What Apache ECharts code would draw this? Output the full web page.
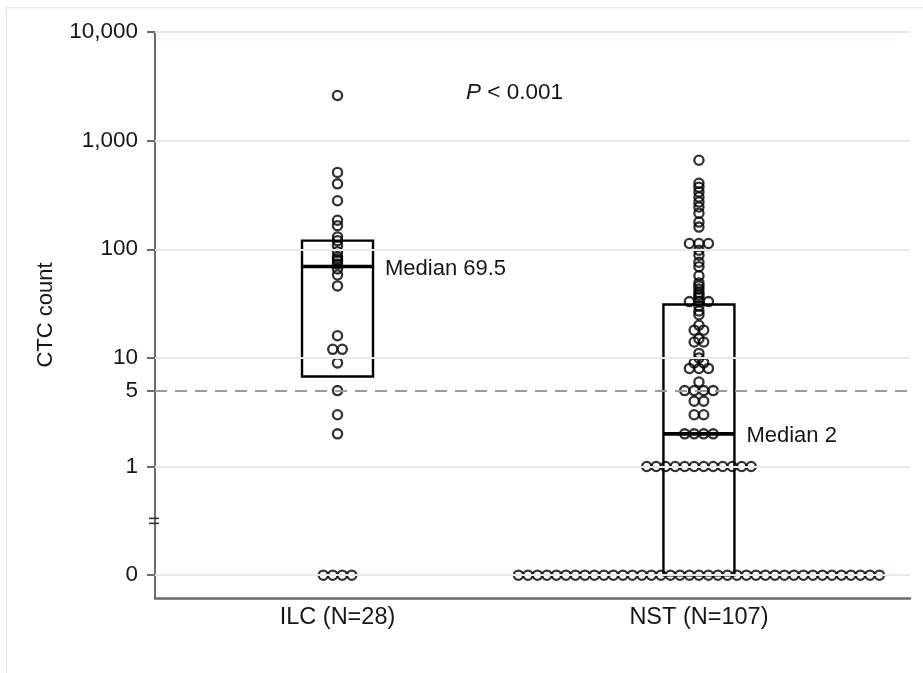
<!DOCTYPE html>
<html>
<head>
<meta charset="utf-8">
<script src="https://cdn.jsdelivr.net/npm/echarts@6/dist/echarts.min.js"></script>
<style>
html,body{margin:0;padding:0;background:#fff;}
#main{width:923px;height:673px;}
</style>
</head>
<body>
<div id="main"></div>
<script>
// ---------- data ----------
const categories = ['ILC (N=28)', 'NST (N=107)'];
const ilcValues = [0,0,0,0,2,3,5,9,12,12,16,46,58,66,73,78,82,86,95,108,120,130,165,185,280,400,510,2600];
const nstValues = [
  0,0,0,0,0,0,0,0,0,0,0,0,0,0,0,0,0,0,0,0,0,0,0,0,0,0,0,0,0,0,0,0,0,0,0,0,0,0,0,
  1,1,1,1,1,1,1,1,1,1,1,1,
  2,2,2,2,
  3,3,4,4,5,5,5,5,6,8,8,8,9,9,10,11,14,14,15,18,18,20,25,27,30,
  33,33,33,36,38,40,43,46,49,57,69,76,88,98,113,113,113,160,178,215,245,272,303,337,373,405,660
];
// box stats: [Q1, median, Q3]
const ilcBox = [6.75, 69.5, 120];
const nstBox = [0, 2, 31];
const medianLabels = ['Median 69.5', 'Median 2'];
const yTickValues = [0, 1, 5, 10, 100, 1000, 10000];
const yTickLabels = ['0', '1', '5', '10', '100', '1,000', '10,000'];
const gridValues = [0, 1, 10, 100, 1000, 10000];
const refLineValue = 5;
const pText = '< 0.001';

// ---------- layout ----------
const ZERO_POS = -1;           // where 0 sits on the log axis (one decade below 1)
const Y_MIN = -1.21, Y_MAX = 4;
const X_MIN = -0.505, X_MAX = 1.584;
const GRID = {left: 155, right: 13, top: 32, bottom: 75};
const PX_PER_X = (923 - GRID.left - GRID.right) / (X_MAX - X_MIN);
const DOT_SPACING_PX = 9.5;
const STEP = DOT_SPACING_PX / PX_PER_X;
const BOX_HALF_PX = 35.5;
const FONT = '"Liberation Sans", Arial, sans-serif';
const TXT = '#161616';

function toY(v) { return v > 0 ? Math.log10(v) : ZERO_POS; }

function swarm(values, cat) {
  const groups = new Map();
  values.forEach(v => groups.set(v, (groups.get(v) || 0) + 1));
  const out = [];
  groups.forEach((n, v) => {
    for (let i = 0; i < n; i++) out.push([cat + (i - (n - 1) / 2) * STEP, toY(v)]);
  });
  return out;
}

const boxData = [ilcBox, nstBox].map((b, i) => [i, toY(b[0]), toY(b[1]), toY(b[2])]);

const chart = echarts.init(document.getElementById('main'), null, {renderer: 'canvas'});

const gridLineData = gridValues.map(v => ({yAxis: toY(v)}));

const dotStyle = {color: 'rgba(0,0,0,0)', borderColor: '#000', borderWidth: 2.3};

const option = {
  animation: false,
  backgroundColor: '#fff',
  textStyle: {fontFamily: FONT},
  grid: GRID,
  xAxis: {
    type: 'value', min: X_MIN, max: X_MAX,
    axisLine: {show: true, onZero: false, lineStyle: {color: '#6b6b6b', width: 2.5}},
    axisTick: {show: false},
    splitLine: {show: false},
    axisLabel: {
      customValues: [0, 1],
      formatter: v => categories[Math.round(v)] || '',
      color: TXT, fontSize: 23.5, fontFamily: FONT, margin: 8
    }
  },
  yAxis: {
    type: 'value', min: Y_MIN, max: Y_MAX,
    name: 'CTC count', nameLocation: 'middle', nameGap: 98,
    nameTextStyle: {color: TXT, fontSize: 22, fontFamily: FONT},
    axisLine: {show: true, onZero: false, lineStyle: {color: '#6b6b6b', width: 2}},
    axisTick: {show: true, customValues: yTickValues.map(toY), length: 8, lineStyle: {color: '#6b6b6b', width: 2}},
    splitLine: {show: false},
    axisLabel: {
      customValues: yTickValues.map(toY),
      formatter: v => {
        const i = yTickValues.findIndex(t => Math.abs(toY(t) - v) < 1e-6);
        return i >= 0 ? yTickLabels[i] : '';
      },
      color: TXT, fontSize: 22.5, fontFamily: FONT, margin: 17
    }
  },
  series: [
    {
      type: 'line', data: [], silent: true, z: 1,
      markLine: {
        silent: true, symbol: 'none', label: {show: false},
        lineStyle: {color: '#e2ecf0', width: 2, type: 'solid'},
        data: gridLineData
      }
    },
    {
      type: 'line', data: [], silent: true, z: 2,
      markLine: {
        silent: true, symbol: 'none', label: {show: false},
        lineStyle: {color: '#9a9a9a', width: 2, type: [12, 8]},
        data: [{yAxis: toY(refLineValue)}]
      }
    },
    {
      type: 'scatter', name: categories[0], data: swarm(ilcValues, 0), silent: true, z: 3,
      symbol: 'circle', symbolSize: 9.2, itemStyle: dotStyle
    },
    {
      type: 'scatter', name: categories[1], data: swarm(nstValues, 1), silent: true, z: 3,
      symbol: 'circle', symbolSize: 9.2, itemStyle: dotStyle
    },
    {
      type: 'custom', silent: true, z: 4,
      data: boxData,
      renderItem: function (params, api) {
        const x = api.value(0);
        const pLo = api.coord([x, api.value(1)]);
        const pMed = api.coord([x, api.value(2)]);
        const pHi = api.coord([x, api.value(3)]);
        const cx = pLo[0];
        return {
          type: 'group',
          children: [
            {type: 'rect', shape: {x: cx - BOX_HALF_PX, y: pHi[1], width: 2 * BOX_HALF_PX, height: pLo[1] - pHi[1]},
             style: {fill: 'none', stroke: '#000', lineWidth: 2.4}},
            {type: 'line', shape: {x1: cx - BOX_HALF_PX, y1: pMed[1], x2: cx + BOX_HALF_PX, y2: pMed[1]},
             style: {stroke: '#000', lineWidth: 3.6}},
            {type: 'text', x: cx + BOX_HALF_PX + 12, y: pMed[1] + 2,
             style: {text: medianLabels[params.dataIndex], fill: TXT, fontSize: 22, fontFamily: FONT,
                     verticalAlign: 'middle', align: 'left'}}
          ]
        };
      }
    }
  ]
};
chart.setOption(option);

// decorations: outer frame, axis break mark, P-value text
const breakY = chart.convertToPixel({gridIndex: 0}, [X_MIN, (toY(1) + ZERO_POS) / 2])[1];
const axisX = GRID.left;
chart.setOption({
  graphic: [
    {type: 'rect', shape: {x: 6.5, y: 7.5, width: 1000, height: 1000}, style: {fill: 'none', stroke: '#e3ecf1', lineWidth: 1.5}, silent: true, z: 0},
    {type: 'line', shape: {x1: axisX - 6, y1: breakY - 2.5, x2: axisX + 4, y2: breakY - 2.5}, style: {stroke: '#333', lineWidth: 1.6}, silent: true, z: 10},
    {type: 'line', shape: {x1: axisX - 6, y1: breakY + 2.5, x2: axisX + 4, y2: breakY + 2.5}, style: {stroke: '#333', lineWidth: 1.6}, silent: true, z: 10},
    {type: 'text', x: 466, y: 93, silent: true, z: 10,
     style: {text: '{i|P} ' + pText, align: 'left', verticalAlign: 'middle', fill: TXT, fontSize: 22.5, fontFamily: FONT,
             rich: {i: {fontStyle: 'italic', fontSize: 22.5, fontFamily: FONT, fill: TXT}}}}
  ]
});
</script>
</body>
</html>
